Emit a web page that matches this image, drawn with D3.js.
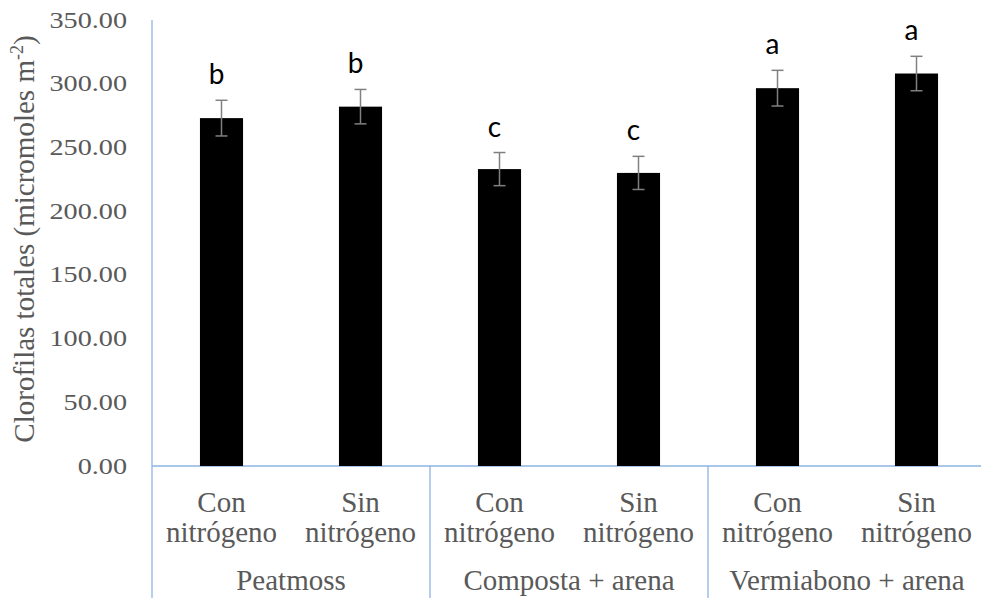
<!DOCTYPE html>
<html>
<head>
<meta charset="utf-8">
<script src="https://cdn.jsdelivr.net/npm/d3@7"></script>
<style>
  body { margin: 0; background: #fff; }
  svg { display: block; }
</style>
</head>
<body>
<main></main>
<script>
const groups = ["Peatmoss", "Composta + arena", "Vermiabono + arena"];
const treatments = ["Con nitrógeno", "Sin nitrógeno"];
const values = [273, 282, 233, 230, 296.5, 308];
const errors = [14, 13.5, 13, 13, 14, 13.5];
const letters = ["b", "b", "c", "c", "a", "a"];
const yTicks = [0, 50, 100, 150, 200, 250, 300, 350];

const w = 981;
const h = 598;
const plotLeft = 152;
const plotTop = 20;
const base = 466;
const step = 139;
const serif = '"Liberation Serif"';
const tickFont = 23.5;

// one entry per bar
const data = values.map((v, i) => ({
  key: i,
  group: groups[Math.floor(i / treatments.length)],
  treat: treatments[i % treatments.length],
  value: v,
  err: errors[i],
  letter: letters[i]
}));

const xScale = d3
  .scaleBand()
  .domain(data.map(d => d.key))
  .range([plotLeft, plotLeft + step * data.length])
  .paddingInner(0.69)
  .paddingOuter(0.345);

const yScale = d3
  .scaleLinear()
  .domain([0, 350])
  .range([base, plotTop]);

const svg = d3
  .select("main")
  .append("svg")
  .attr("width", w)
  .attr("height", h);

const axisColor = "#8eb4e3";
const textColor = "#595959";
const fmt = d3.format(".2f");

// y axis labels
const yAxis = svg
  .append("g")
  .attr("transform", `translate(${plotLeft},0)`)
  .call(
    d3.axisLeft(yScale)
      .tickValues(yTicks)
      .tickSize(0)
      .tickPadding(25)
      .tickFormat(fmt)
  );
yAxis.select(".domain").remove();
yAxis.attr("font-family", null).attr("font-size", null);
// labels look a bit wider than plain Times, so stretch them
yAxis
  .selectAll("text")
  .style("font-family", serif)
  .style("font-size", tickFont + "px")
  .attr("fill", textColor)
  .attr("dy", "0.3em")
  .attr("textLength", d => {
    const s = fmt(d);
    return tickFont * 1.2 * (0.5 * (s.length - 1) + 0.25);
  })
  .attr("lengthAdjust", "spacingAndGlyphs");

// axis lines
svg
  .append("line")
  .attr("x1", plotLeft)
  .attr("x2", plotLeft)
  .attr("y1", yScale(350))
  .attr("y2", h)
  .attr("stroke", axisColor)
  .attr("stroke-width", 1.3);
svg
  .append("line")
  .attr("x1", plotLeft)
  .attr("x2", w)
  .attr("y1", base)
  .attr("y2", base)
  .attr("stroke", axisColor)
  .attr("stroke-width", 1.3);

// group separators
const nT = treatments.length;
groups.forEach((g, gi) => {
  const x = xScale(gi * nT + nT - 1) + xScale.bandwidth() + xScale.step() * xScale.paddingOuter();
  svg
    .append("line")
    .attr("x1", x)
    .attr("x2", x)
    .attr("y1", base)
    .attr("y2", h)
    .attr("stroke", axisColor)
    .attr("stroke-width", 1.3);
});

// bars
svg
  .selectAll("rect.bar")
  .data(data)
  .enter()
  .append("rect")
  .attr("class", "bar")
  .attr("x", d => xScale(d.key))
  .attr("y", d => yScale(d.value))
  .attr("width", xScale.bandwidth())
  .attr("height", d => base - yScale(d.value))
  .attr("fill", "#000");

// error bars
const errG = svg
  .selectAll("g.err")
  .data(data)
  .enter()
  .append("g")
  .attr("class", "err")
  .attr("stroke", "#808080")
  .attr("stroke-width", 1.5);
errG
  .append("line")
  .attr("x1", d => xScale(d.key) + xScale.bandwidth() / 2)
  .attr("x2", d => xScale(d.key) + xScale.bandwidth() / 2)
  .attr("y1", d => yScale(d.value + d.err))
  .attr("y2", d => yScale(d.value - d.err));
[1, -1].forEach(s => {
  errG
    .append("line")
    .attr("x1", d => xScale(d.key) + xScale.bandwidth() / 2 - 6)
    .attr("x2", d => xScale(d.key) + xScale.bandwidth() / 2 + 6)
    .attr("y1", d => yScale(d.value + s * d.err))
    .attr("y2", d => yScale(d.value + s * d.err));
});

// significance letters
svg
  .selectAll("text.letter")
  .data(data)
  .enter()
  .append("text")
  .attr("class", "letter")
  .attr("x", d => xScale(d.key) + xScale.bandwidth() / 2 - 5)
  .attr("y", d => yScale(d.value + d.err) - 16)
  .attr("text-anchor", "middle")
  .style("font-family", '"Lato"')
  .style("font-size", "28px")
  .attr("fill", "#000")
  .text(d => d.letter);

// category labels (two lines)
const catText = svg
  .selectAll("text.cat")
  .data(data)
  .enter()
  .append("text")
  .attr("class", "cat")
  .attr("text-anchor", "middle")
  .style("font-family", serif)
  .style("font-size", "29px")
  .attr("fill", textColor);
catText.each(function(d) {
  const cx = xScale(d.key) + xScale.bandwidth() / 2;
  const parts = d.treat.split(" ");
  d3.select(this)
    .selectAll("tspan")
    .data(parts)
    .enter()
    .append("tspan")
    .attr("x", cx)
    .attr("y", (p, i) => 512 + i * 30)
    .text(p => p);
});

// group labels
svg
  .selectAll("text.group")
  .data(groups)
  .enter()
  .append("text")
  .attr("class", "group")
  .attr("x", (g, gi) => (xScale(gi * nT) + xScale(gi * nT + nT - 1) + xScale.bandwidth()) / 2)
  .attr("y", 590)
  .attr("text-anchor", "middle")
  .style("font-family", serif)
  .style("font-size", "29px")
  .attr("fill", textColor)
  .text(g => g);

// y axis title
const title = svg
  .append("text")
  .attr("transform", "translate(34,239) rotate(-90)")
  .attr("text-anchor", "middle")
  .style("font-family", serif)
  .style("font-size", "29px")
  .attr("fill", textColor);
title.append("tspan").text("Clorofilas totales (micromoles m");
title.append("tspan").style("font-size", "18px").attr("dy", -11).text("-2");
title.append("tspan").attr("dy", 11).text(")");
</script>
</body>
</html>
